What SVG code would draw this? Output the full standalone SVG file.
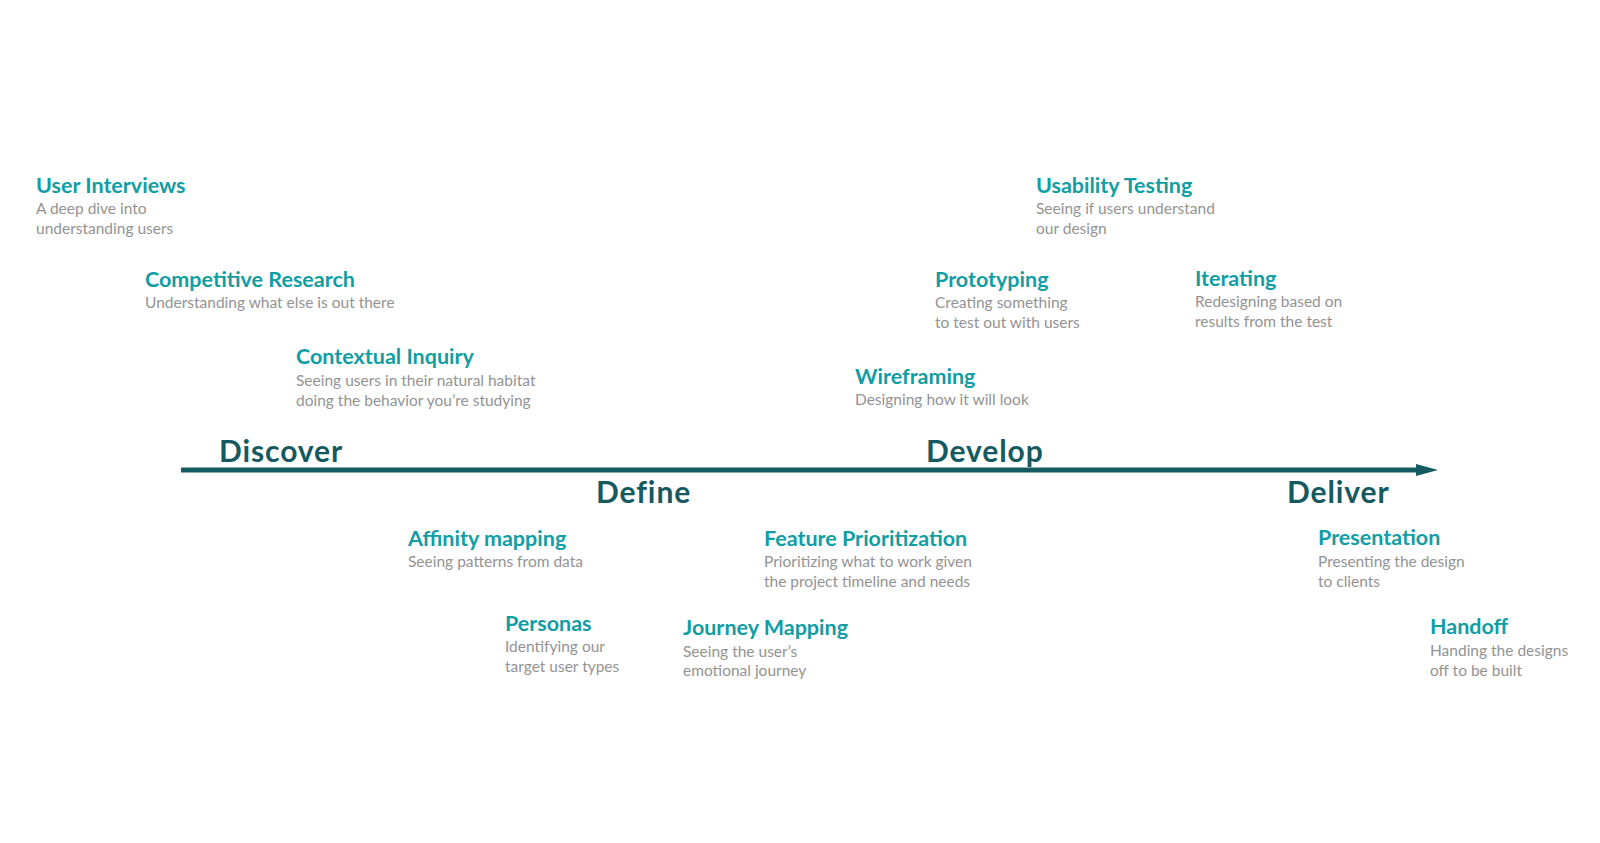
<svg xmlns="http://www.w3.org/2000/svg" width="1600" height="843" viewBox="0 0 1600 843">
<style>
.t{font-family:Lato,"Open Sans","Liberation Sans",sans-serif;font-weight:700;font-size:21.5px;fill:#109ea4}
.d{font-family:Lato,"Open Sans","Liberation Sans",sans-serif;font-weight:400;font-size:15.5px;fill:#939393}
.p{font-family:Lato,"Open Sans","Liberation Sans",sans-serif;font-weight:700;font-size:30px;letter-spacing:0.9px;fill:#155a60}
</style>
<defs>
<marker id="ah" markerWidth="22" markerHeight="12" refX="0" refY="6" orient="auto" markerUnits="userSpaceOnUse">
<path d="M0,0 L22,6 L0,12 Z" fill="#155a60"/>
</marker>
</defs>
<rect width="1600" height="843" fill="#ffffff"/>
<g id="connectors">
<line x1="181" y1="470" x2="1416" y2="470" stroke="#155a60" stroke-width="5" marker-end="url(#ah)"/>
</g>
<g id="discover"><text class="p" x="219" y="462">Discover</text></g>
<g id="define"><text class="p" x="596" y="503">Define</text></g>
<g id="develop"><text class="p" x="926" y="462">Develop</text></g>
<g id="deliver"><text class="p" x="1287" y="503">Deliver</text></g>
<g id="user-interviews"><text class="t" x="36" y="193">User Interviews</text><text class="d" x="36" y="214">A deep dive into</text><text class="d" x="36" y="234">understanding users</text></g>
<g id="competitive-research"><text class="t" x="145" y="287">Competitive Research</text><text class="d" x="145" y="308">Understanding what else is out there</text></g>
<g id="contextual-inquiry"><text class="t" x="296" y="364">Contextual Inquiry</text><text class="d" x="296" y="386">Seeing users in their natural habitat</text><text class="d" x="296" y="406">doing the behavior you’re studying</text></g>
<g id="affinity-mapping"><text class="t" x="408" y="546">Affinity mapping</text><text class="d" x="408" y="567">Seeing patterns from data</text></g>
<g id="personas"><text class="t" x="505" y="631">Personas</text><text class="d" x="505" y="652">Identifying our</text><text class="d" x="505" y="672">target user types</text></g>
<g id="journey-mapping"><text class="t" x="683" y="635">Journey Mapping</text><text class="d" x="683" y="657">Seeing the user’s</text><text class="d" x="683" y="676">emotional journey</text></g>
<g id="feature-prioritization"><text class="t" x="764" y="546">Feature Prioritization</text><text class="d" x="764" y="567">Prioritizing what to work given</text><text class="d" x="764" y="587">the project timeline and needs</text></g>
<g id="wireframing"><text class="t" x="855" y="384">Wireframing</text><text class="d" x="855" y="405">Designing how it will look</text></g>
<g id="prototyping"><text class="t" x="935" y="287">Prototyping</text><text class="d" x="935" y="308">Creating something</text><text class="d" x="935" y="328">to test out with users</text></g>
<g id="usability-testing"><text class="t" x="1036" y="193">Usability Testing</text><text class="d" x="1036" y="214">Seeing if users understand</text><text class="d" x="1036" y="234">our design</text></g>
<g id="iterating"><text class="t" x="1195" y="286">Iterating</text><text class="d" x="1195" y="307">Redesigning based on</text><text class="d" x="1195" y="327">results from the test</text></g>
<g id="presentation"><text class="t" x="1318" y="545">Presentation</text><text class="d" x="1318" y="567">Presenting the design</text><text class="d" x="1318" y="587">to clients</text></g>
<g id="handoff"><text class="t" x="1430" y="634">Handoff</text><text class="d" x="1430" y="656">Handing the designs</text><text class="d" x="1430" y="676">off to be built</text></g>
</svg>
